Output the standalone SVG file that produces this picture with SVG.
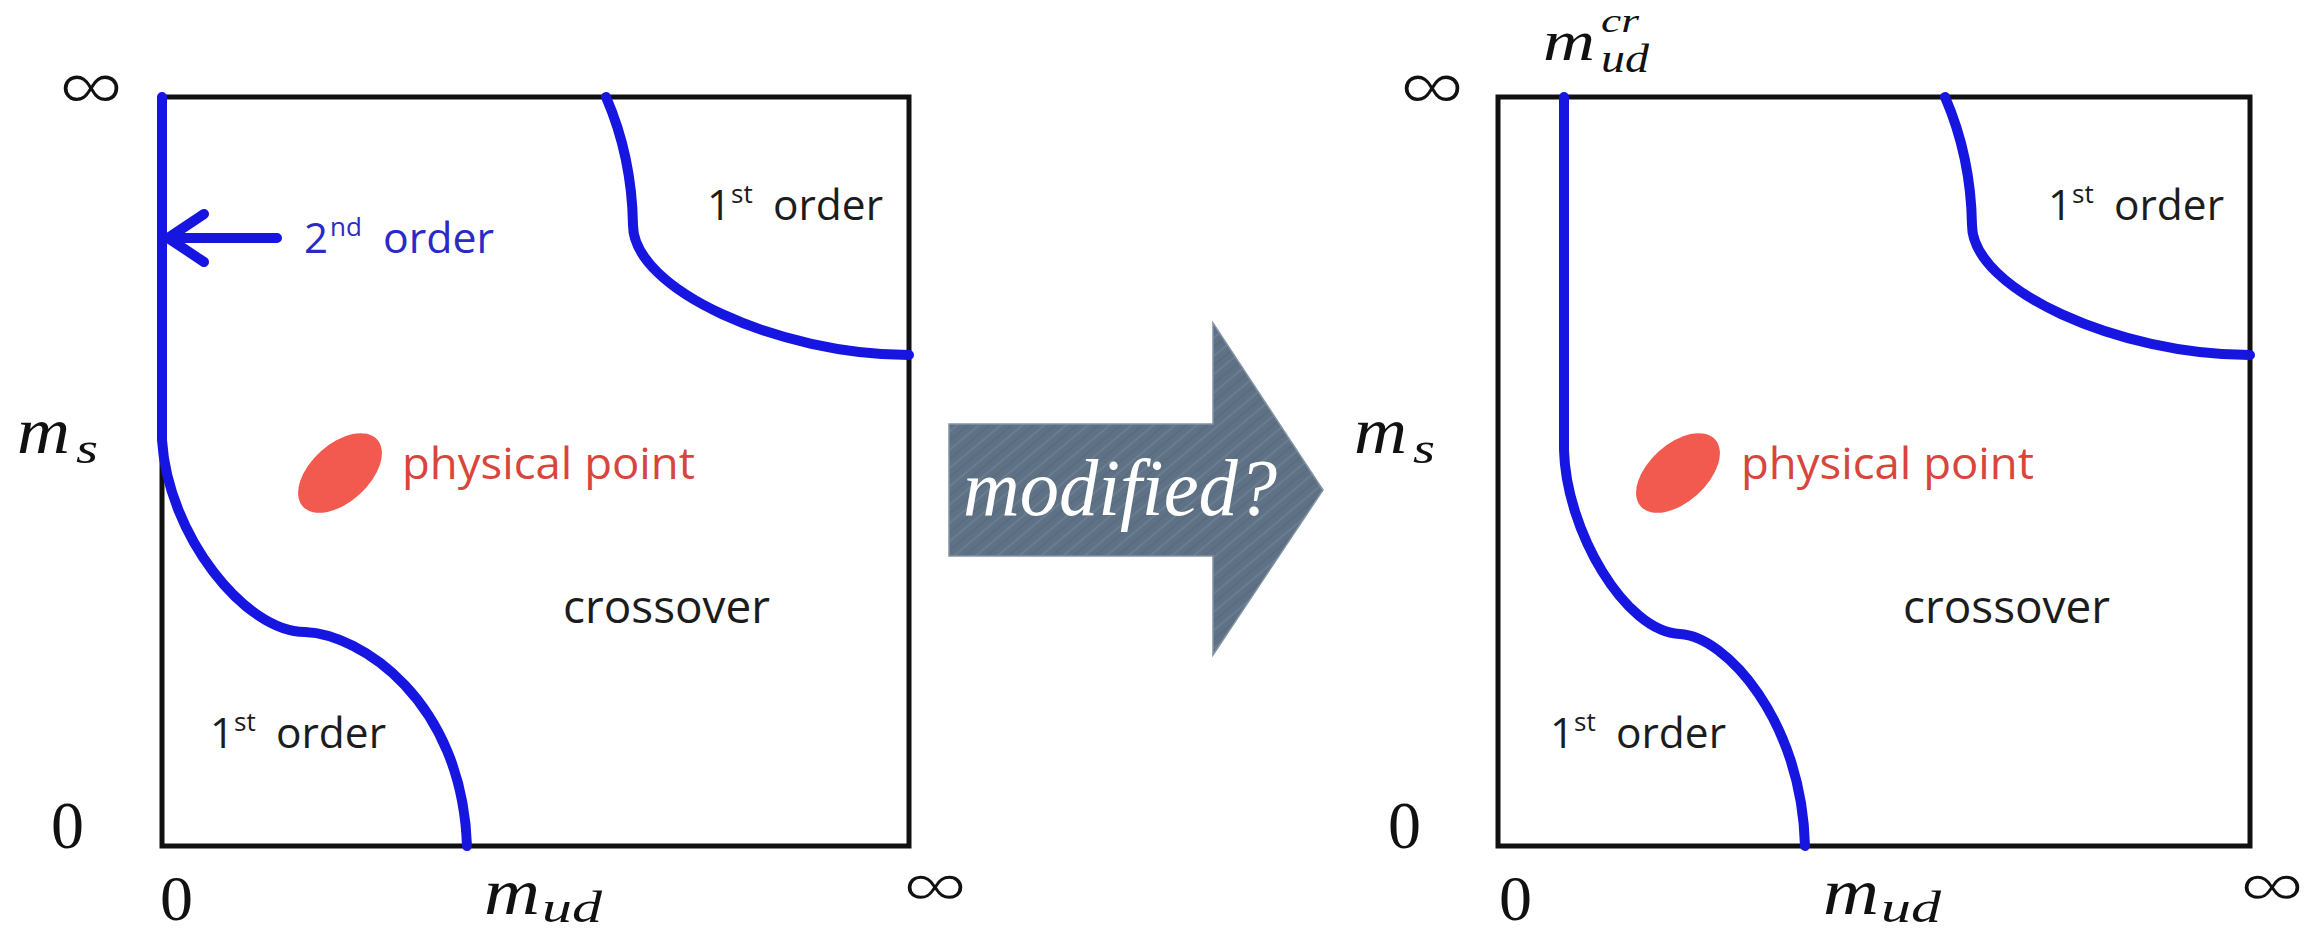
<svg xmlns="http://www.w3.org/2000/svg" width="2324" height="932" viewBox="0 0 2324 932">
<defs>
<style>
.box{fill:none;stroke:#111;stroke-width:5}
.blue{fill:none;stroke:#1616e0;stroke-width:10;stroke-linecap:round;stroke-linejoin:round}
.sans{font-family:'Open Sans','Noto Sans','Liberation Sans',sans-serif;fill:#1c1c1c}
.lbl{font-size:42px}
.sup{font-size:26px}
.bl{fill:#2a2ac6}
.red{fill:#d8453d;font-size:44px}
.math{font-family:'Liberation Serif','DejaVu Serif',serif;fill:#111}
.inf{font-family:'Open Sans','Noto Sans','Liberation Serif',serif;font-weight:300;fill:#111;font-size:84px}
.infb{font-family:'Open Sans','Noto Sans','Liberation Serif',serif;font-weight:300;fill:#111;font-size:76px}
.it{font-style:italic}
.dot{fill:#f25a50}
</style>
<pattern id="tex" width="14" height="14" patternUnits="userSpaceOnUse" patternTransform="rotate(-40)">
<rect width="14" height="14" fill="#5f7285"/>
<line x1="0" y1="3" x2="14" y2="3" stroke="#8a9bad" stroke-width="1.5" opacity="0.35"/>
<line x1="0" y1="10" x2="14" y2="10" stroke="#46586b" stroke-width="1.2" opacity="0.3"/>
</pattern>
</defs>
<rect width="2324" height="932" fill="#ffffff"/>

<g id="left-diagram">
<rect class="box" x="162" y="97" width="747" height="749"/>
<path class="blue" d="M162,97 V440 C168,535 245,632 305,632 C360,634 462,700 467,846"/>
<path class="blue" d="M606,97 C616,120 632,165 633,225 C633,290 780,355 909,355"/>
<ellipse class="dot" cx="340" cy="473" rx="50" ry="29" transform="rotate(-42 340 473)"/>
<text class="sans red" x="402" y="479" textLength="293" lengthAdjust="spacingAndGlyphs">physical point</text>
<text class="sans" x="563" y="623" font-size="46" textLength="207" lengthAdjust="spacingAndGlyphs">crossover</text>
<text class="sans lbl" x="707" y="220">1</text>
<text class="sans sup" x="731" y="203">st</text>
<text class="sans lbl" x="773" y="220" textLength="110" lengthAdjust="spacingAndGlyphs">order</text>
<text class="sans lbl" x="210" y="748">1</text>
<text class="sans sup" x="234" y="731">st</text>
<text class="sans lbl" x="276" y="748" textLength="110" lengthAdjust="spacingAndGlyphs">order</text>
<text class="sans lbl bl" x="304" y="253">2</text>
<text class="sans sup bl" x="330" y="236">nd</text>
<text class="sans lbl bl" x="383" y="253" textLength="111" lengthAdjust="spacingAndGlyphs">order</text>
<text class="inf" x="59" y="118" textLength="64" lengthAdjust="spacingAndGlyphs">∞</text>
<text class="math it" x="17" y="453" font-size="66" textLength="53" lengthAdjust="spacingAndGlyphs">m</text>
<text class="math it" x="76" y="463" font-size="44" textLength="22" lengthAdjust="spacingAndGlyphs">s</text>
<text class="math" x="51" y="848" font-size="68" textLength="33" lengthAdjust="spacingAndGlyphs">0</text>
<text class="math" x="160" y="920" font-size="64" textLength="33" lengthAdjust="spacingAndGlyphs">0</text>
<text class="math it" x="484" y="914" font-size="66" textLength="56" lengthAdjust="spacingAndGlyphs">m</text>
<text class="math it" x="542" y="922" font-size="44" textLength="60" lengthAdjust="spacingAndGlyphs">ud</text>
<text class="infb" x="903" y="914" textLength="64" lengthAdjust="spacingAndGlyphs">∞</text>
</g>

<g id="connectors">
<path class="blue" stroke-width="10" d="M277,238 H170 M204,214 L168,238 L204,262"/>
</g>

<g id="transition-arrow">
<polygon points="949,424 1213,424 1213,323 1323,490 1213,655 1213,556 949,556" fill="url(#tex)" stroke="#8393a4" stroke-width="1.5"/>
<text x="963" y="515" font-family="'Liberation Serif','DejaVu Serif',serif" font-style="italic" font-size="80" fill="#ffffff" textLength="314" lengthAdjust="spacingAndGlyphs">modified?</text>
</g>

<g id="right-diagram" transform="translate(1337,0)">
<rect class="box" x="161" y="97" width="752" height="749"/>
<path class="blue" d="M227,97 V450 C229,530 288,632 343,634 C388,636 465,720 468,846"/>
<path class="blue" d="M608,97 C618,120 634,165 635,225 C635,290 782,355 913,355"/>
<ellipse class="dot" cx="341" cy="473" rx="50" ry="29" transform="rotate(-42 341 473)"/>
<text class="sans red" x="404" y="479" textLength="293" lengthAdjust="spacingAndGlyphs">physical point</text>
<text class="sans" x="566" y="623" font-size="46" textLength="207" lengthAdjust="spacingAndGlyphs">crossover</text>
<text class="sans lbl" x="711" y="220">1</text>
<text class="sans sup" x="735" y="203">st</text>
<text class="sans lbl" x="777" y="220" textLength="110" lengthAdjust="spacingAndGlyphs">order</text>
<text class="sans lbl" x="213" y="748">1</text>
<text class="sans sup" x="237" y="731">st</text>
<text class="sans lbl" x="279" y="748" textLength="110" lengthAdjust="spacingAndGlyphs">order</text>
<text class="inf" x="63" y="118" textLength="64" lengthAdjust="spacingAndGlyphs">∞</text>
<text class="math it" x="206" y="60" font-size="56" textLength="52" lengthAdjust="spacingAndGlyphs">m</text>
<text class="math it" x="264" y="32" font-size="34" textLength="38" lengthAdjust="spacingAndGlyphs">cr</text>
<text class="math it" x="264" y="72" font-size="40" textLength="48" lengthAdjust="spacingAndGlyphs">ud</text>
<text class="math it" x="17" y="453" font-size="66" textLength="53" lengthAdjust="spacingAndGlyphs">m</text>
<text class="math it" x="76" y="463" font-size="44" textLength="22" lengthAdjust="spacingAndGlyphs">s</text>
<text class="math" x="51" y="848" font-size="68" textLength="33" lengthAdjust="spacingAndGlyphs">0</text>
<text class="math" x="162" y="920" font-size="64" textLength="33" lengthAdjust="spacingAndGlyphs">0</text>
<text class="math it" x="486" y="914" font-size="66" textLength="56" lengthAdjust="spacingAndGlyphs">m</text>
<text class="math it" x="544" y="922" font-size="44" textLength="60" lengthAdjust="spacingAndGlyphs">ud</text>
<text class="infb" x="903" y="914" textLength="64" lengthAdjust="spacingAndGlyphs">∞</text>
</g>
</svg>
